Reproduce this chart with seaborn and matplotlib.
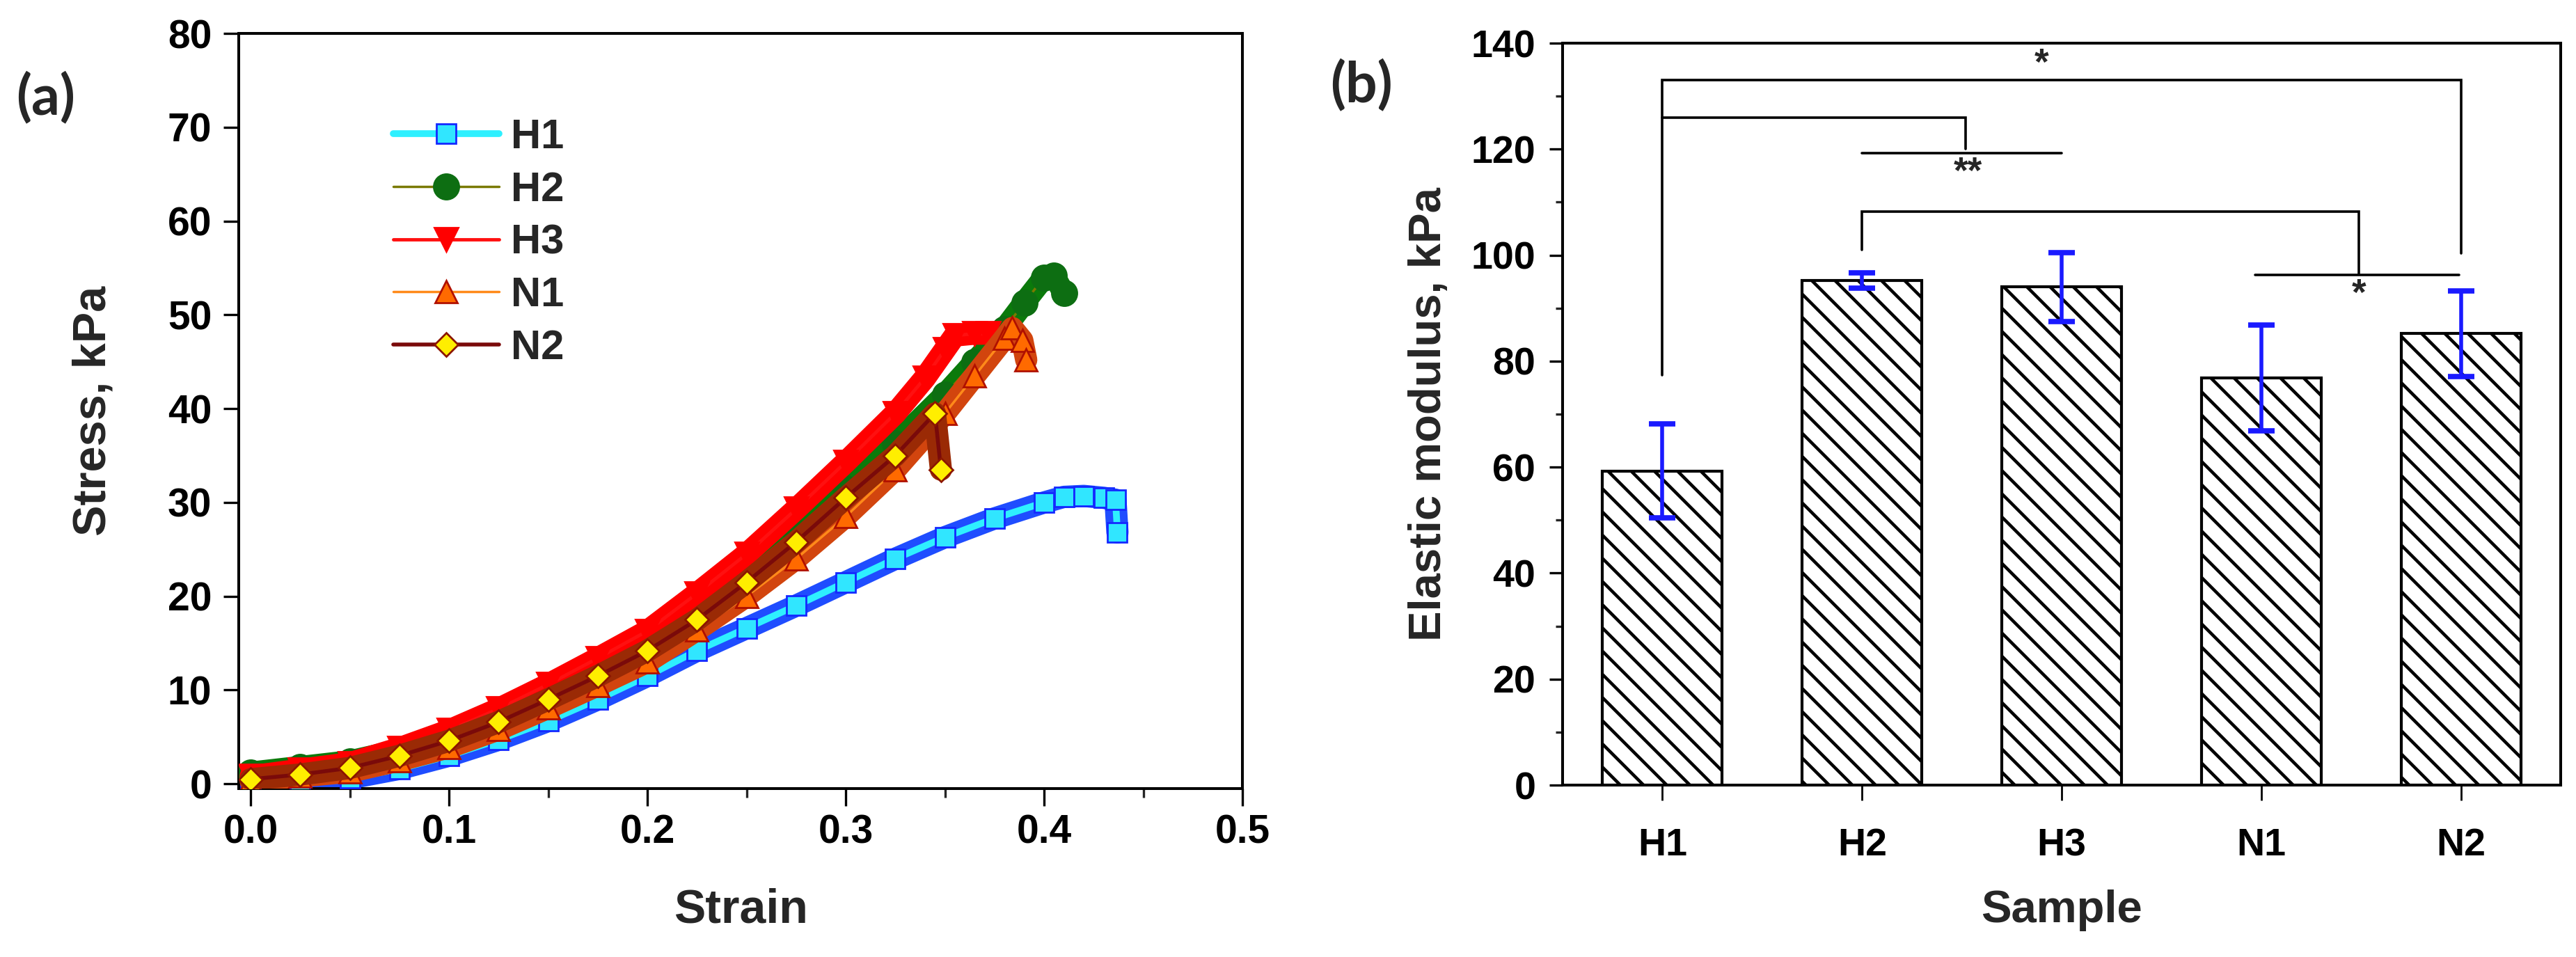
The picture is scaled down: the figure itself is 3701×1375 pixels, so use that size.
import matplotlib
matplotlib.use('Agg')
import matplotlib.pyplot as plt
import seaborn as sns
import pandas as pd
from matplotlib.ticker import MultipleLocator

# ---- (a) stress-strain curves ----
strain_H1 = [0.0, 0.025, 0.05, 0.075, 0.1, 0.125, 0.15, 0.175, 0.2, 0.225, 0.25, 0.275, 0.3,
             0.325, 0.35, 0.375, 0.4, 0.41, 0.42, 0.43, 0.436, 0.437]
stress_H1 = [0.0, 0.2, 0.6, 1.6, 3.0, 4.7, 6.7, 9.0, 11.5, 14.2, 16.6, 19.0, 21.5,
             24.0, 26.3, 28.3, 30.0, 30.6, 30.7, 30.5, 30.3, 26.8]

strain_H2 = [0.0, 0.025, 0.05, 0.075, 0.1, 0.125, 0.15, 0.175, 0.2, 0.225, 0.25, 0.275, 0.3,
             0.325, 0.35, 0.365, 0.38, 0.39, 0.4, 0.405, 0.41]
stress_H2 = [1.2, 1.8, 2.4, 3.6, 5.2, 7.2, 9.5, 12.2, 15.0, 18.4, 22.4, 26.8, 31.5,
             36.3, 41.5, 45.0, 48.5, 51.3, 54.0, 54.2, 52.3]

strain_H3 = [0.0, 0.025, 0.05, 0.075, 0.1, 0.125, 0.15, 0.175, 0.2, 0.225, 0.25, 0.275, 0.3,
             0.325, 0.34, 0.35, 0.355, 0.365, 0.372]
stress_H3 = [0.8, 1.5, 2.2, 3.8, 5.7, 8.0, 10.6, 13.4, 16.3, 20.3, 24.5, 29.3, 34.3,
             39.5, 43.3, 46.3, 47.8, 48.0, 48.0]

strain_N1 = [0.0, 0.025, 0.05, 0.075, 0.1, 0.125, 0.15, 0.175, 0.2, 0.225, 0.25, 0.275, 0.3,
             0.325, 0.35, 0.365, 0.38, 0.384, 0.389, 0.391]
stress_N1 = [0.3, 0.8, 1.3, 2.5, 3.9, 5.8, 8.1, 10.5, 13.0, 16.4, 20.0, 24.0, 28.5,
             33.5, 39.5, 43.5, 47.5, 48.6, 47.3, 45.2]

strain_N2 = [0.0, 0.025, 0.05, 0.075, 0.1, 0.125, 0.15, 0.175, 0.2, 0.225, 0.25, 0.275, 0.3,
             0.325, 0.345, 0.348]
stress_N2 = [0.5, 1.0, 1.7, 3.0, 4.6, 6.6, 9.0, 11.5, 14.2, 17.5, 21.5, 25.8, 30.5,
             35.0, 39.5, 33.5]

# ---- (b) elastic modulus ----
samples = ['H1', 'H2', 'H3', 'N1', 'N2']
modulus = [59.3, 95.2, 94.0, 76.8, 85.2]
modulus_err = [8.8, 1.4, 6.5, 10.0, 8.1]

# significance brackets (category position, kPa)
bracket_x = [[0, 0, 4, 4], [0, 1.52, 1.52], [1.0, 2.0], [1.0, 1.0, 3.49, 3.49], [2.97, 3.99]]
bracket_y = [[77.4, 133.1, 133.1, 100.3], [126.0, 126.0, 120.0], [119.3, 119.3],
             [101.0, 108.2, 108.2, 96.5], [96.3, 96.3]]
star_x = [1.9, 1.53, 3.49]
star_y = [136.0, 115.5, 92.5]
star_text = ['*', '**', '*']

sns.set_theme(style='ticks')
plt.rcParams['font.family'] = ['Liberation Sans', 'DejaVu Sans']
plt.rcParams['font.weight'] = 'bold'
plt.rcParams['hatch.linewidth'] = 3.3

fig = plt.figure(figsize=(37.01, 13.75), dpi=100)
ax1 = fig.add_axes([0.0927, 0.176, 0.3896, 0.789])
ax2 = fig.add_axes([0.6066, 0.1796, 0.3875, 0.7753])

# 每条曲线: 底下一条粗的色带 + 上面带符号的线
series = [
    # name, x, y, line color, line width, marker, marker size, face, edge, band color
    ('H1', strain_H1, stress_H1, '#2ef0ff', 7, 's', 20, '#30e6ff', '#1428ff', '#1f4dff'),
    ('H2', strain_H2, stress_H2, '#7a7a00', 2.5, 'o', 26, '#0d6e12', '#0d6e12', '#0b7a0b'),
    ('H3', strain_H3, stress_H3, '#ff1010', 3.5, 'v', 24, '#ff0000', '#ff0000', '#ff0000'),
    ('N1', strain_N1, stress_N1, '#ff8a1a', 2.5, '^', 23, '#ff6a00', '#b01000', '#d2450e'),
    ('N2', strain_N2, stress_N2, '#7a0a0a', 4, 'D', 17, '#ffee00', '#8b1500', '#9a2a05'),
]
for i, (name, sx, sy, lc, lw, mk, ms, mfc, mec, band) in enumerate(series):
    df = pd.DataFrame({'Strain': sx, 'Stress': sy})
    sns.lineplot(data=df, x='Strain', y='Stress', ax=ax1, color=band, linewidth=23,
                 estimator=None, sort=False, solid_capstyle='round', solid_joinstyle='round',
                 zorder=2 + 2 * i)
    sns.lineplot(data=df, x='Strain', y='Stress', ax=ax1, color=lc, linewidth=lw,
                 marker=mk, markersize=ms, markerfacecolor=mfc, markeredgecolor=mec,
                 markeredgewidth=2, estimator=None, sort=False, label=name,
                 zorder=3 + 2 * i)

ax1.set_xlim(-0.006, 0.5)
ax1.set_ylim(-0.5, 80)
ax1.xaxis.set_major_locator(MultipleLocator(0.1))
ax1.xaxis.set_minor_locator(MultipleLocator(0.05))
ax1.yaxis.set_major_locator(MultipleLocator(10))
ax1.set_xticks([0.0, 0.1, 0.2, 0.3, 0.4, 0.5])
ax1.set_xticklabels(['0.0', '0.1', '0.2', '0.3', '0.4', '0.5'])
ax1.tick_params(axis='y', which='major', length=16, width=2.4, pad=12, labelsize=41)
ax1.tick_params(axis='x', which='major', length=18, width=2.4, pad=8, labelsize=41)
ax1.tick_params(axis='x', which='minor', length=9, width=2.4)
ax1.set_xlabel('Strain', fontsize=49, fontweight='bold')
ax1.set_ylabel('Stress, kPa', fontsize=48, fontweight='bold')
ax1.xaxis.set_label_coords(0.5, -0.131)
ax1.yaxis.set_label_coords(-0.123, 0.5)

leg = ax1.legend(loc='upper left', bbox_to_anchor=(0.154, 0.888), frameon=False,
                 fontsize=43, handlelength=2.55, handletextpad=0.28, labelspacing=0.35,
                 borderpad=0, borderaxespad=0)
for t in leg.get_texts():
    t.set_fontweight('bold')

# (b) 柱状图
df_b = pd.DataFrame({'Sample': samples, 'Modulus': modulus})
sns.barplot(data=df_b, x='Sample', y='Modulus', ax=ax2, color='white', edgecolor='black',
            linewidth=3, width=0.6, errorbar=None, saturation=1)
for p in ax2.patches:
    p.set_hatch('\\')
    p.set_facecolor('white')
ax2.errorbar(range(len(samples)), modulus, yerr=modulus_err, fmt='none', ecolor='#1a1aff',
             elinewidth=4, capsize=14, capthick=5.5, zorder=5)

for bx, by in zip(bracket_x, bracket_y):
    ax2.plot(bx, by, color='black', linewidth=2.6, solid_joinstyle='miter', zorder=6)
for tx, ty, tt in zip(star_x, star_y, star_text):
    ax2.text(tx, ty, tt, ha='center', va='center', fontsize=38, fontweight='bold')

ax2.set_xlim(-0.5, 4.5)
ax2.set_ylim(0, 140)
ax2.yaxis.set_major_locator(MultipleLocator(20))
ax2.yaxis.set_minor_locator(MultipleLocator(10))
ax2.tick_params(axis='y', which='major', length=14, width=2.4, pad=14, labelsize=40)
ax2.tick_params(axis='y', which='minor', length=7, width=2.4)
ax2.tick_params(axis='x', which='major', length=16, width=2.0, pad=28, labelsize=40)
ax2.set_xlabel('Sample', fontsize=47, fontweight='bold')
ax2.set_ylabel('Elastic modulus, kPa', fontsize=47, fontweight='bold')
ax2.xaxis.set_label_coords(0.5, -0.141)
ax2.yaxis.set_label_coords(-0.113, 0.5)

for ax in (ax1, ax2):
    for s in ax.spines.values():
        s.set_linewidth(2.9)
        s.set_color('black')
        s.set_visible(True)
    ax.tick_params(direction='out', colors='black', top=False, right=False)
    for lab in ax.get_xticklabels() + ax.get_yticklabels():
        lab.set_fontweight('bold')

fig.text(0.0176, 0.897, '(a)', fontsize=58, fontweight='bold', family=['Lato', 'DejaVu Sans'],
         ha='center', va='center')
fig.text(0.5285, 0.9105, '(b)', fontsize=58, fontweight='bold', family=['Lato', 'DejaVu Sans'],
         ha='center', va='center')

fig.savefig('out.png', dpi=100, facecolor='white')
